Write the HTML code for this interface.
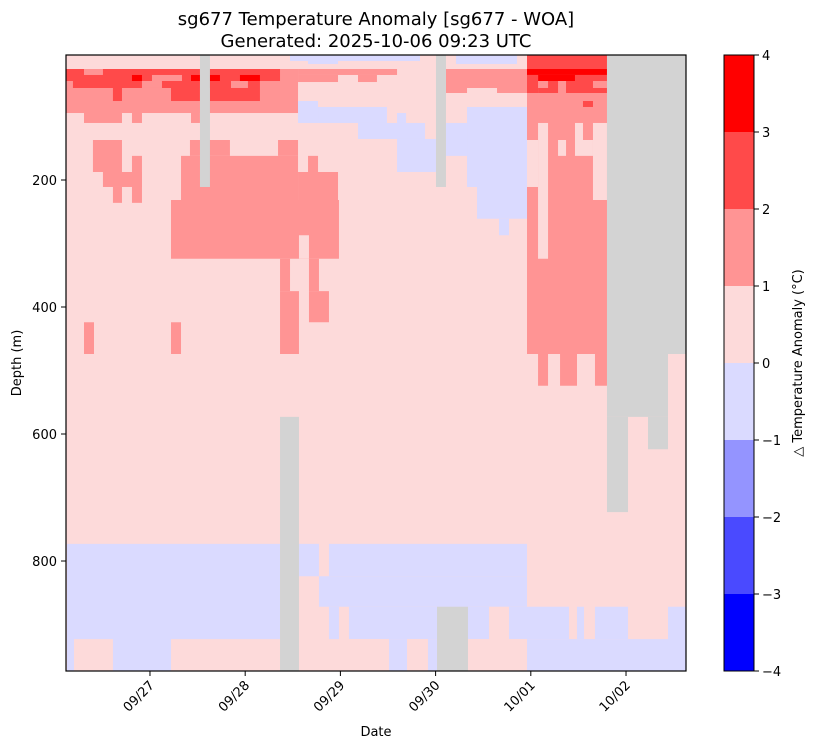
<!DOCTYPE html>
<html><head><meta charset="utf-8">
<style>
html,body{margin:0;padding:0;background:#fff;}
svg{display:block;font-family:"DejaVu Sans","Liberation Sans",sans-serif;}
</style></head>
<body>
<svg id="chart" width="814" height="748" viewBox="0 0 814 748" xmlns="http://www.w3.org/2000/svg">
<text x="376" y="25" text-anchor="middle" font-size="18">sg677 Temperature Anomaly [sg677 - WOA]</text>
<text x="376" y="47" text-anchor="middle" font-size="18">Generated: 2025-10-06 09:23 UTC</text>
<defs><clipPath id="plotclip"><rect x="66" y="55" width="620" height="616"/></clipPath></defs>
<g id="cells" clip-path="url(#plotclip)"></g>
<rect x="66" y="55" width="620" height="616" fill="none" stroke="#000" stroke-width="1.2"/>
<g id="xaxis"></g>
<g id="yaxis"></g>
<text x="376" y="736" text-anchor="middle" font-size="13">Date</text>
<text transform="translate(21,363) rotate(-90)" text-anchor="middle" font-size="13">Depth (m)</text>
<g id="cbar"></g>
<text transform="translate(802,363) rotate(-90)" text-anchor="middle" font-size="13">△ Temperature Anomaly (°C)</text>
</svg>
<script>
// time in days since 09/27 00:00, depth in m
const dateLabels = ["09/27","09/28","09/29","09/30","10/01","10/02"];
const dateTicks = [0,1,2,3,4,5];
const depthTicks = [200,400,600,800];
const cbarLevels = [-4,-3,-2,-1,0,1,2,3,4];
const cbarColors = ["#0000ff","#4a4aff","#9494ff","#dadaff","#fddada","#ff9494","#ff4a4a","#ff0000"];
const timeRange = [-0.882, 5.63];
const depthRange = [3.15, 973.2];
// patches: [t0, t1, d0, d1, anomaly] (null = no data)
const patches = [
[-0.882,5.63,0,980,0.5],
[1.471,2.836,0,12.6,-0.5],[1.660,1.975,12.6,17.3,-0.5],[3.214,3.855,0,17.3,-0.5],
[-0.882,1.555,25.2,94.5,1.5],[1.555,2.521,25.2,34.6,1.5],[1.555,1.975,34.6,45.7,1.5],[2.185,2.384,34.6,45.7,1.5],
[2.416,2.595,25.2,34.6,1.5],[3.109,3.960,25.2,63.0,1.5],[3.330,3.645,55.1,63.0,0.5],
[-0.882,1.366,25.2,44.1,2.5],[-0.693,-0.494,25.2,34.6,1.5],[0.021,0.336,34.6,44.1,1.5],
[-0.189,-0.084,34.6,44.1,3.5],[0.431,0.735,34.6,44.1,3.5],[0.945,1.155,34.6,44.1,3.5],
[-0.809,1.155,44.1,55.1,2.5],[-0.084,0.126,44.1,55.1,1.5],[0.851,1.029,44.1,55.1,1.5],
[-0.389,-0.294,55.1,75.6,2.5],[0.221,0.525,55.1,75.6,2.5],[0.630,1.155,55.1,75.6,2.5],
[-0.693,-0.294,94.5,110.2,1.5],[-0.189,-0.084,94.5,110.2,1.5],[0.431,0.525,94.5,110.2,1.5],
[1.555,1.765,75.6,110.2,-0.5],[1.765,2.489,85.0,110.2,-0.5],[2.185,2.889,110.2,135.4,-0.5],
[2.595,2.69,94.5,110.2,-0.5],[2.595,3.004,135.4,187.4,-0.5],[3.109,3.330,110.2,162,-0.5],
[3.330,3.960,85.0,211,-0.5],[3.435,3.960,211,261,-0.5],[3.666,3.771,261,287,-0.5],
[0.326,1.555,162,231.5,1.5],[0.420,0.840,137,162,1.5],[1.345,1.555,137,162,1.5],
[1.555,1.975,187.4,231.5,1.5],[1.660,1.765,162,187.4,1.5],[0.221,1.985,231.5,324,1.5],
[1.565,1.670,287,324,0.5],[1.366,1.471,324,375,1.5],[1.366,1.565,375,474,1.5],
[1.670,1.775,324,375,1.5],[1.670,1.880,375,424,1.5],
[-0.693,-0.588,424,474,1.5],[0.221,0.326,424,474,1.5],
[-0.599,-0.294,137,187.4,1.5],[-0.494,-0.084,187.4,211,1.5],[-0.389,-0.294,211,236,1.5],[-0.189,-0.084,162,236,1.5],
[0.525,0.630,0,211,null],[3.004,3.109,0,211,null],
[3.960,4.800,0,25.2,2.5],[3.960,4.800,25.2,34.6,3.5],[4.076,4.464,34.6,44.1,3.5],
[3.960,4.076,34.6,63.0,2.5],[4.464,4.800,34.6,44.1,2.5],[4.076,4.800,44.1,63.0,2.5],
[4.076,4.181,44.1,55.1,1.5],[4.286,4.370,44.1,63.0,1.5],[4.653,4.800,44.1,55.1,1.5],
[3.960,4.800,63.0,474,1.5],[4.548,4.653,75.6,85.0,2.5],
[4.076,4.181,110.2,324,0.5],[3.960,4.076,137,211,0.5],[4.286,4.370,137,162,0.5],
[4.464,4.653,137,162,0.5],[4.464,4.548,110.2,137,0.5],[4.653,4.800,110.2,231.5,0.5],
[4.076,4.181,474,524,1.5],[4.307,4.485,474,524,1.5],[4.674,4.800,474,524,1.5],
[4.800,5.630,0,474,null],[4.800,5.441,474,573,null],[4.800,5.021,573,723,null],[5.231,5.441,573,624,null],
[-0.872,1.366,773,980,-0.5],[-0.798,-0.389,923,980,0.5],[0.221,1.366,923,980,0.5],
[1.565,1.775,773,824,-0.5],[1.880,3.960,773,824,-0.5],[1.775,3.960,824,872,-0.5],
[1.880,1.985,872,923,-0.5],[2.090,3.960,872,923,-0.5],[2.090,2.511,923,980,0.5],
[2.511,2.700,923,980,-0.5],[2.700,2.920,923,980,0.5],[2.920,3.015,923,980,-0.5],
[3.340,3.960,923,980,0.5],[3.561,3.771,872,980,0.5],[3.015,3.340,872,980,null],
[1.366,1.565,573,980,null],
[3.960,4.401,872,923,-0.5],[4.485,4.559,872,923,-0.5],[4.674,5.021,872,923,-0.5],
[5.441,5.630,872,980,-0.5],[3.960,5.441,923,980,-0.5]
];
const NS="http://www.w3.org/2000/svg";
const X = t => 66 + (t - timeRange[0]) / (timeRange[1]-timeRange[0]) * 620;
const Y = d => 55 + (d - depthRange[0]) / (depthRange[1]-depthRange[0]) * 616;
function color(v){
  if(v===null) return "#d3d3d3";
  let i=Math.floor(v-cbarLevels[0]);
  i=Math.max(0,Math.min(cbarColors.length-1,i));
  return cbarColors[i];
}
function mk(tag,attrs,parent){const e=document.createElementNS(NS,tag);for(const k in attrs)e.setAttribute(k,attrs[k]);parent.appendChild(e);return e;}
const cells=document.getElementById("cells");
patches.forEach(p=>{
  const r=mk("rect",{x:X(p[0]),y:Y(p[2]),width:X(p[1])-X(p[0]),height:Y(p[3])-Y(p[2]),fill:color(p[4])},cells);
  
  
});
const xa=document.getElementById("xaxis");
dateTicks.forEach((t,i)=>{
  const x=X(t);
  const l=mk("line",{x1:x,x2:x,y1:671,y2:676,stroke:"#000","stroke-width":1},xa);
  
  
  const tx=mk("text",{transform:`translate(${x+5},686) rotate(-45)`,"text-anchor":"end","font-size":"13"},xa);
  tx.textContent=dateLabels[i];
  
  
});
const ya=document.getElementById("yaxis");
depthTicks.forEach(d=>{
  const y=Y(d);
  const l=mk("line",{x1:61,x2:66,y1:y,y2:y,stroke:"#000","stroke-width":1},ya);
  
  
  const tx=mk("text",{x:57,y:y+5,"text-anchor":"end","font-size":"13"},ya);
  tx.textContent=d;
  
  
});
const cb=document.getElementById("cbar");
const cTop=55,cBot=671,cX=724,cW=30;
const CY=v=>cBot-(v-cbarLevels[0])/(cbarLevels[cbarLevels.length-1]-cbarLevels[0])*(cBot-cTop);
cbarColors.forEach((c,i)=>{
  const r=mk("rect",{x:cX,y:CY(cbarLevels[i+1]),width:cW,height:CY(cbarLevels[i])-CY(cbarLevels[i+1]),fill:c},cb);
  
  
});
mk("rect",{x:cX,y:cTop,width:cW,height:cBot-cTop,fill:"none",stroke:"#000","stroke-width":1},cb);
cbarLevels.forEach(v=>{
  const y=CY(v);
  const l=mk("line",{x1:cX+cW,x2:cX+cW+5,y1:y,y2:y,stroke:"#000","stroke-width":1},cb);
  
  
  const tx=mk("text",{x:cX+cW+8,y:y+5,"font-size":"13"},cb);
  tx.textContent=v<0?"\u2212"+Math.abs(v):String(v);
  
  
});
</script>
</body></html>
